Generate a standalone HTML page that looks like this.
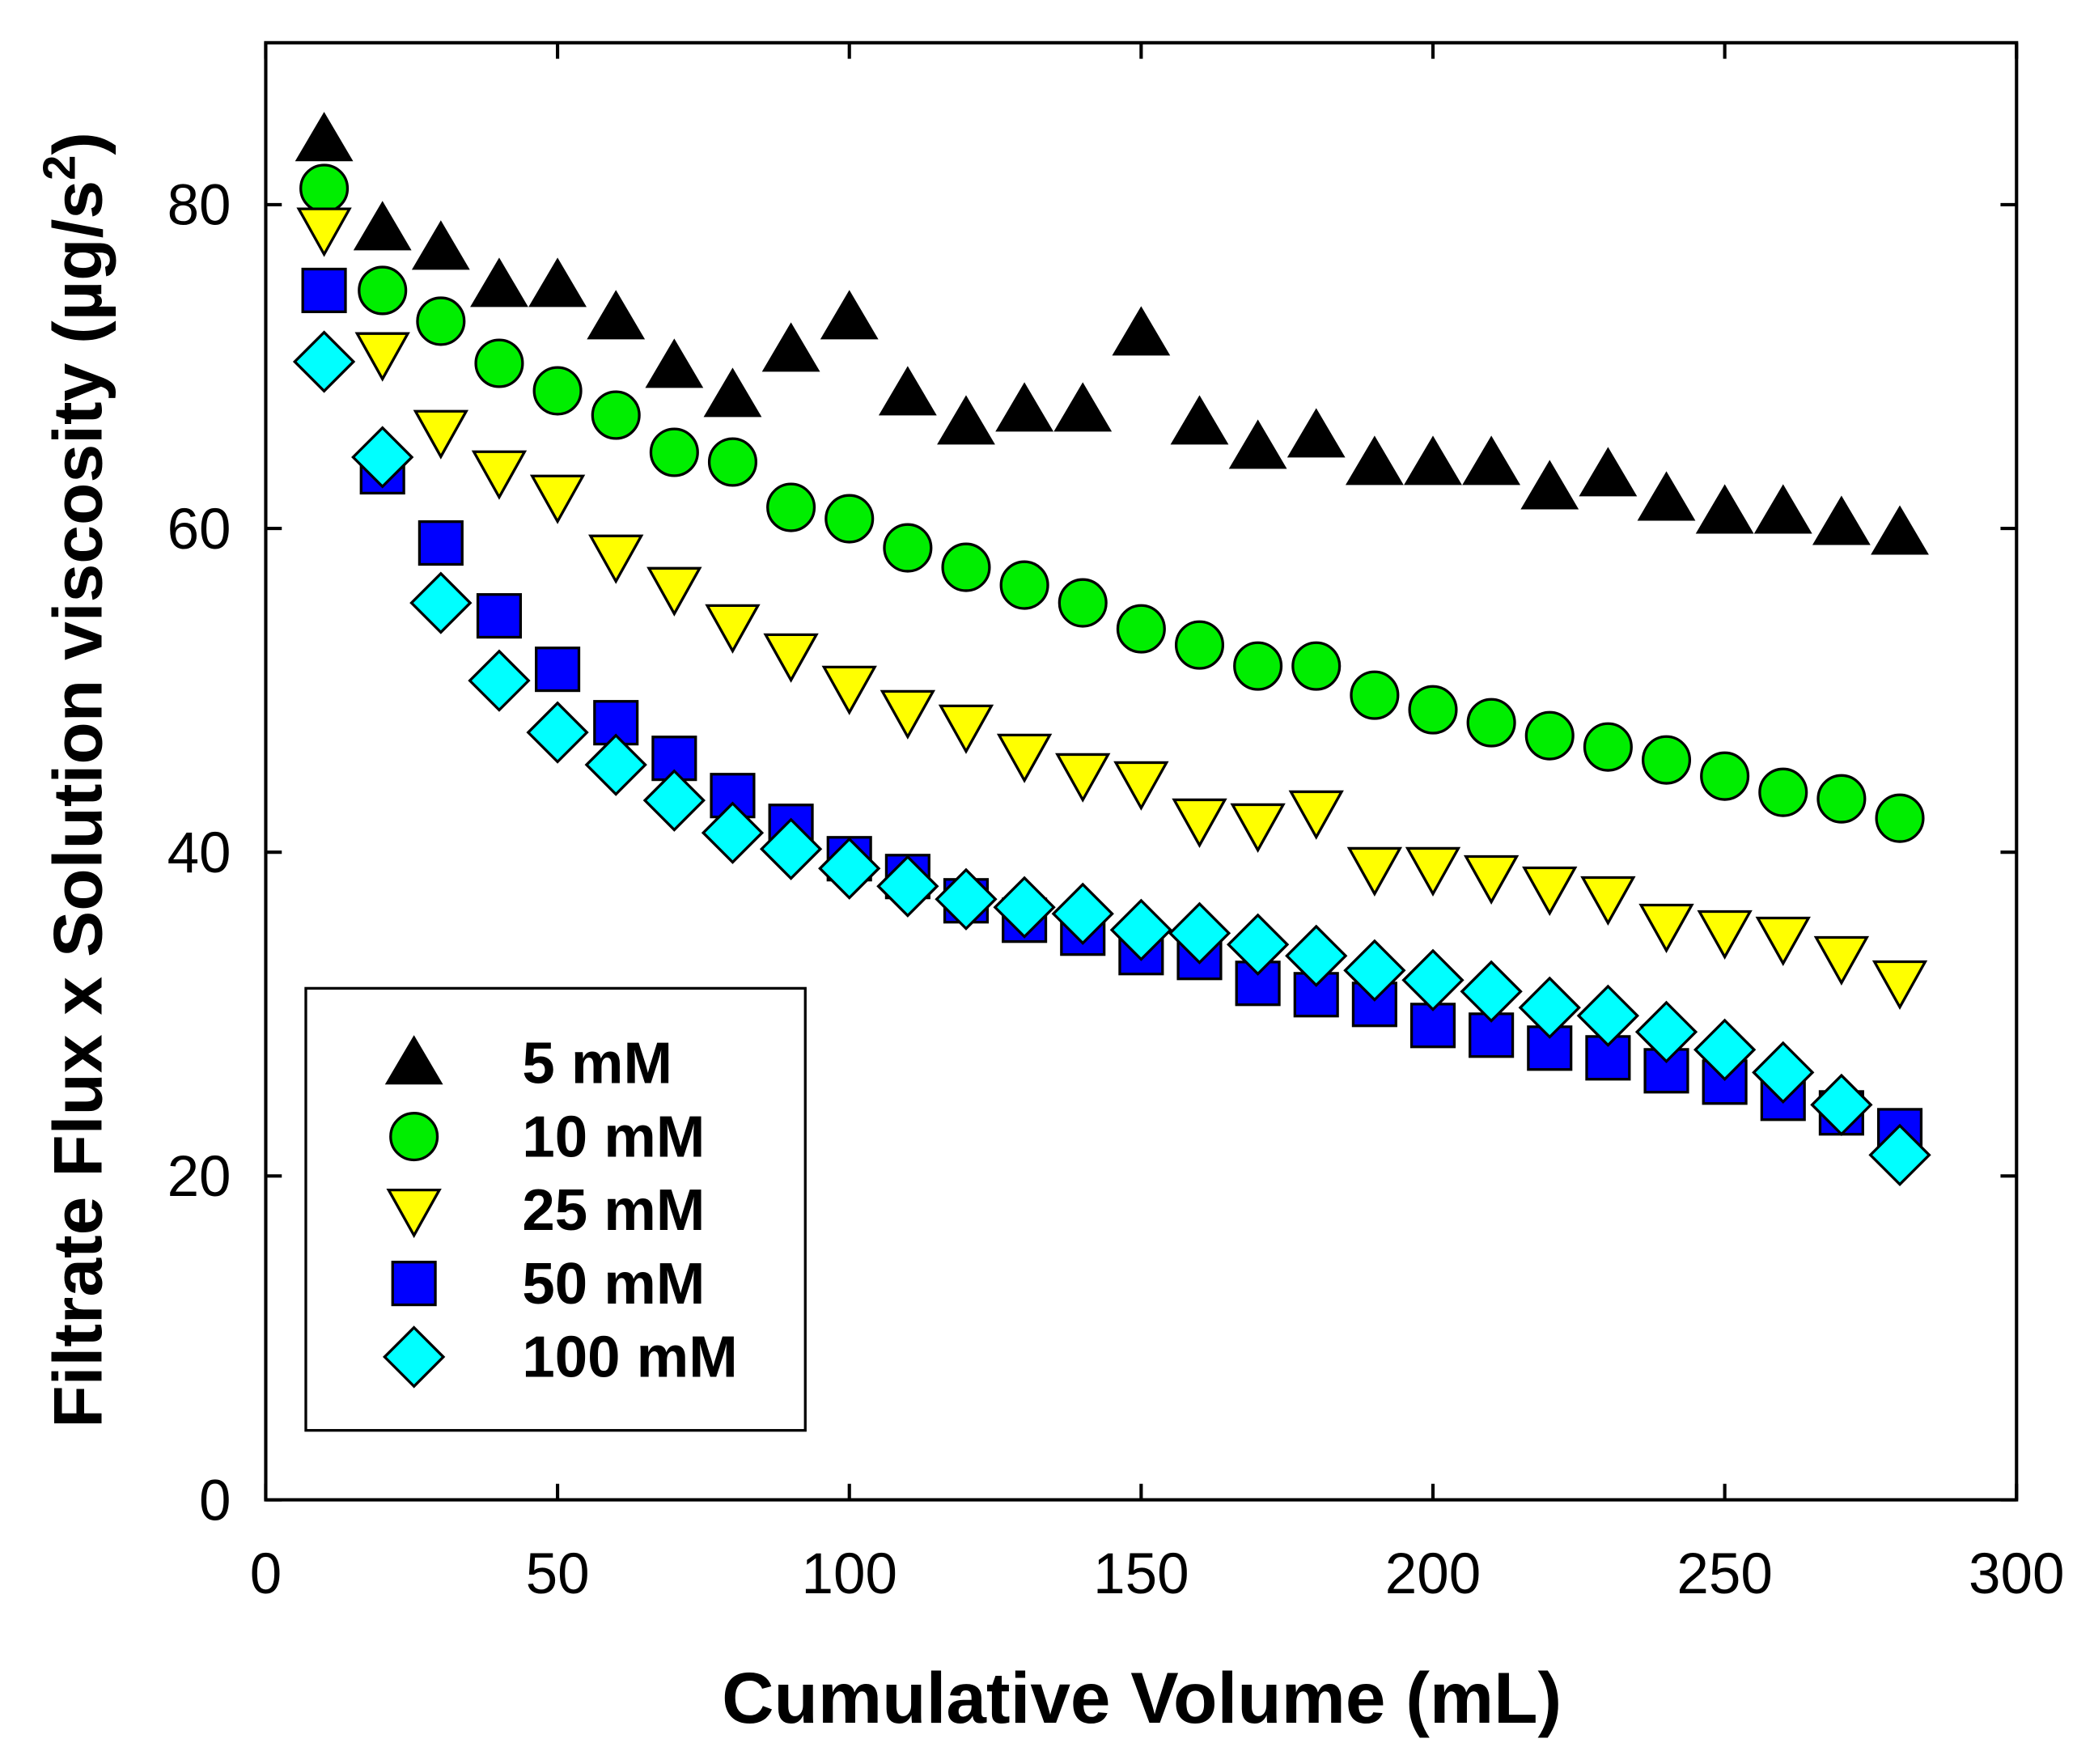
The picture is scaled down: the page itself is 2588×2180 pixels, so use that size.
<!DOCTYPE html>
<html><head><meta charset="utf-8"><style>
html,body{margin:0;padding:0;background:#fff}
svg{display:block}
text{font-family:"Liberation Sans",Arial,sans-serif}
</style></head><body>
<svg id="chart" width="2588" height="2180" viewBox="0 0 1568 1320.8" xmlns="http://www.w3.org/2000/svg">
<rect x="0" y="0" width="1568" height="1321" fill="#fff"/>
<g id="axes"></g>
<g id="marks"></g>
<g id="legend"></g>
<text x="855" y="1290" text-anchor="middle" font-size="54" font-weight="bold">Cumulative Volume (mL)</text>
<text transform="translate(76,584) rotate(-90)" text-anchor="middle" font-size="52" font-weight="bold">Filtrate Flux x Solution viscosity (µg/s<tspan font-size="34" dy="-20">2</tspan><tspan dy="20">)</tspan></text>
</svg>
<script>
const xValues=[10,20,30,40,50,60,70,80,90,100,110,120,130,140,150,160,170,180,190,200,210,220,230,240,250,260,270,280];
const s5=[84,78.5,77.3,75,75,73,70,68.2,71,73,68.3,66.5,67.3,67.3,72,66.5,65,65.7,64,64,64,62.5,63.3,61.8,61,61,60.3,59.7];
const s10=[81,74.7,72.8,70.2,68.5,67,64.7,64.1,61.3,60.6,58.8,57.6,56.5,55.4,53.8,52.8,51.5,51.5,49.7,48.8,48,47.2,46.5,45.7,44.7,43.7,43.3,42.1];
const s25=[78.5,70.8,66,63.5,62,58.3,56.3,54,52.2,50.2,48.7,47.8,46,44.8,44.3,42,41.7,42.5,39,39,38.5,37.8,37.2,35.5,35.1,34.7,33.5,32];
const s50=[74.7,63.5,59.1,54.6,51.3,48,45.8,43.5,41.6,39.6,38.5,37,35.8,35,33.8,33.5,31.9,31.2,30.6,29.3,28.7,27.9,27.3,26.5,25.8,24.8,23.9,22.8];
const s100=[70.3,64.4,55.4,50.6,47.4,45.4,43.2,41.2,40.2,39,37.9,37.1,36.6,36.2,35.2,35,34.3,33.6,32.7,32.1,31.4,30.4,29.9,28.9,27.8,26.4,24.4,21.3];
const xTicks=[0,50,100,150,200,250,300];
const yTicks=[0,20,40,60,80];
const legendLabels=["5 mM","10 mM","25 mM","50 mM","100 mM"];

const NS="http://www.w3.org/2000/svg";
const X0=199,X1=1510,Y0=1123,Y1=32;
const sx=v=>X0+(v-0)/(300-0)*(X1-X0);
const sy=v=>Y0-(v-0)/(90-0)*(Y0-Y1);
function mk(tag,attrs,parent){const e=document.createElementNS(NS,tag);for(const k in attrs)e.setAttribute(k,attrs[k]);parent.appendChild(e);return e;}
const axes=document.getElementById('axes');
const frame=mk('rect',{x:X0,y:Y1,width:X1-X0,height:Y0-Y1,fill:'none',stroke:'#000','stroke-width':2.5},axes);


xTicks.forEach(t=>{
  const x=sx(t);
  const l=mk('line',{x1:x,x2:x,y1:Y0,y2:Y0-12,stroke:'#000','stroke-width':2.5},axes);
  
  
  const l2=mk('line',{x1:x,x2:x,y1:Y1,y2:Y1+12,stroke:'#000','stroke-width':2.5},axes);
  
  
  const tx=mk('text',{x:x,y:Y0+70,'text-anchor':'middle','font-size':43},axes);
  tx.textContent=t;
  
  
});
yTicks.forEach(t=>{
  const y=sy(t);
  const l=mk('line',{x1:X0,x2:X0+12,y1:y,y2:y,stroke:'#000','stroke-width':2.5},axes);
  
  
  const l2=mk('line',{x1:X1,x2:X1-12,y1:y,y2:y,stroke:'#000','stroke-width':2.5},axes);
  
  
  const tx=mk('text',{x:X0-26,y:y+15,'text-anchor':'end','font-size':43},axes);
  tx.textContent=t;
  
  
});
function marker(type,cx,cy,parent){
  const st={stroke:'#000','stroke-width':2};
  let e;
  if(type==='tri'){e=mk('polygon',Object.assign({points:`${cx},${cy-19} ${cx-20},${cy+15} ${cx+20},${cy+15}`,fill:'#000'},st),parent);}
  else if(type==='circ'){e=mk('circle',Object.assign({cx:cx,cy:cy,r:17.5,fill:'#00ee00'},st),parent);}
  else if(type==='dtri'){e=mk('polygon',Object.assign({points:`${cx-19},${cy-15} ${cx+19},${cy-15} ${cx},${cy+19}`,fill:'#ffff00'},st),parent);}
  else if(type==='sq'){e=mk('rect',Object.assign({x:cx-16,y:cy-16,width:32,height:32,fill:'#0000ff'},st),parent);}
  else {e=mk('polygon',Object.assign({points:`${cx},${cy-22} ${cx+22},${cy} ${cx},${cy+22} ${cx-22},${cy}`,fill:'#00ffff'},st),parent);}
  return e;
}
const series=[[s5,'tri','5mM'],[s10,'circ','10mM'],[s25,'dtri','25mM'],[s50,'sq','50mM'],[s100,'dia','100mM']];
const marks=document.getElementById('marks');
series.forEach(([vals,type,name])=>{
  const g=mk('g',{},marks);
  
  
  vals.forEach((v,i)=>{
    const m=marker(type,sx(xValues[i]),sy(v),g);
    
    
  });
});
const lg=document.getElementById('legend');
const box=mk('rect',{x:229,y:740,width:374,height:331,fill:'#fff',stroke:'#000','stroke-width':2},lg);


series.forEach(([vals,type,name],i)=>{
  const y=796+i*55;
  const g=mk('g',{},lg);
  
  
  marker(type,310,y,g);
  const t=mk('text',{x:391,y:y+15,'font-size':44,'font-weight':'bold'},g);
  t.textContent=legendLabels[i];
});
</script>
</body></html>
